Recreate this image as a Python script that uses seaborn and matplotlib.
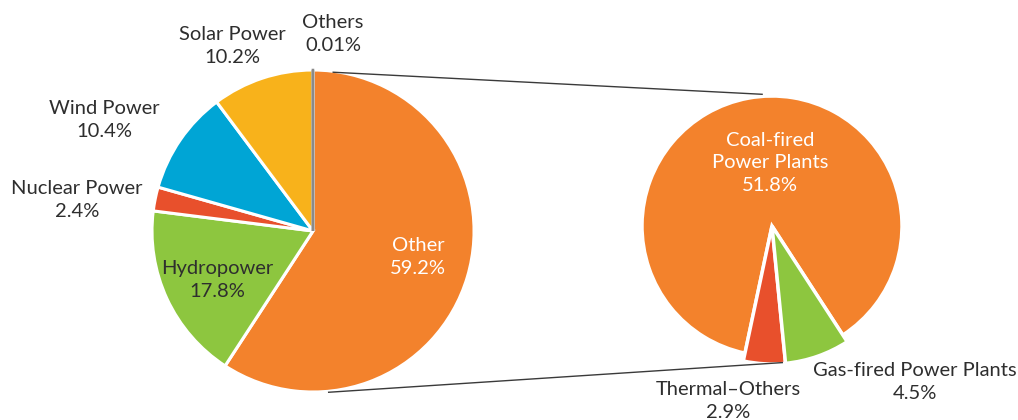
import numpy as np
import matplotlib
matplotlib.use("Agg")
import matplotlib.pyplot as plt
import seaborn as sns

# Electricity generation mix (share of total, %)
mix_labels = ["Other", "Hydropower", "Nuclear Power", "Wind Power", "Solar Power", "Others"]
mix_values = [59.2, 17.8, 2.4, 10.4, 10.2, 0.01]

# Breakdown of the "Other" share (% of total)
other_labels = ["Coal-fired\nPower Plants", "Thermal\u2013Others", "Gas-fired Power Plants"]
other_values = [51.8, 2.9, 4.5]

sns.set_theme(style="white")
plt.rcParams["font.family"] = ["Lato", "DejaVu Sans"]

ORANGE = "#F3822C"
GREEN = "#8DC63F"
RED = "#E8502C"
BLUE = "#00A5D5"
YELLOW = "#F8B21B"
GREY = "#8A8A8A"
TEXT = "#2E2E2E"

W, H = 1018, 420
fig = plt.figure(figsize=(W / 100, H / 100), dpi=100)
ax = fig.add_axes([0, 0, 1, 1])


def up(y):
    """Convert a top-origin pixel row into the axes' upward y."""
    return H - y


# Left pie: overall generation mix
left_c = (313, up(231))
left_r = 161
wedges_l, _ = ax.pie(
    mix_values,
    colors=[ORANGE, GREEN, RED, BLUE, YELLOW, GREY],
    startangle=90,
    counterclock=False,
    explode=[0.055, 0, 0, 0, 0, 0],
    radius=left_r,
    center=left_c,
    wedgeprops=dict(edgecolor="white", linewidth=2.2),
    normalize=True,
)
wedges_l[-1].set_edgecolor(GREY)
wedges_l[-1].set_linewidth(1.8)

# Right pie: breakdown of the "Other" slice
right_c = (772, up(226))
right_r = 130
wedges_r, _ = ax.pie(
    other_values,
    colors=[ORANGE, RED, GREEN],
    startangle=-57,
    counterclock=True,
    radius=right_r,
    center=right_c,
    wedgeprops=dict(edgecolor="white", linewidth=2.5),
    normalize=True,
)
for w in wedges_r[1:]:
    w.set_radius(138)


def polar(c, r, deg):
    a = np.deg2rad(deg)
    return c[0] + r * np.cos(a), c[1] + r * np.sin(a)


# Connector lines between the two pies
for (r1, a1), (r2, a2) in [((160, 83), (132, 94)), ((162, -84.7), (137, -85.4))]:
    x1, y1 = polar(left_c, r1, a1)
    x2, y2 = polar(right_c, r2, a2)
    ax.plot([x1, x2], [y1, y2], color="#3a3a3a", lw=1.0, solid_capstyle="butt")

fs = 14.5
labels = [
    ("Solar Power\n10.2%", 232, 46, TEXT),
    ("Others\n0.01%", 333, 34, TEXT),
    ("Wind Power\n10.4%", 104, 120, TEXT),
    ("Nuclear Power\n2.4%", 77, 200, TEXT),
    ("Hydropower\n17.8%", 217, 280, TEXT),
    ("Other\n59.2%", 418, 257, "white"),
    ("Coal-fired\nPower Plants\n51.8%", 770, 163, "white"),
    ("Thermal\u2013Others\n2.9%", 728, 401, TEXT),
    ("Gas-fired Power Plants\n4.5%", 915, 382, TEXT),
]
for txt, x, y, col in labels:
    ax.text(x, up(y), txt, ha="center", va="center", fontsize=fs,
            color=col, linespacing=1.38)

ax.set_xlim(0, W)
ax.set_ylim(0, H)
ax.set_aspect("equal")
ax.axis("off")

fig.savefig("out.png", dpi=100, facecolor="white")
